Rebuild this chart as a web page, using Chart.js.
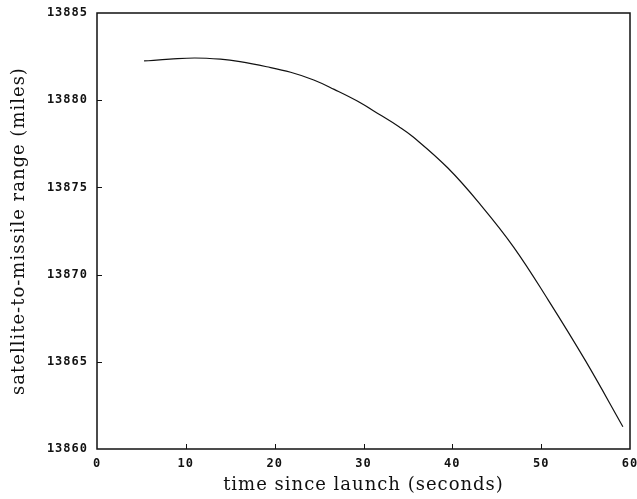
<!DOCTYPE html>
<html>
<head>
<meta charset="utf-8">
<script src="https://cdn.jsdelivr.net/npm/chart.js@4/dist/chart.umd.min.js"></script>
<style>
  html, body { margin: 0; padding: 0; background: #fff; }
  #wrap { width: 637px; height: 499px; }
</style>
</head>
<body>
<div id="wrap"><canvas id="c" width="637" height="499"></canvas></div>
<script>
// time since launch (seconds)
const timeSec = [5.3, 8.2, 11.0, 13.9, 16.1, 19.1, 21.8, 24.4, 26.7, 29.3, 31.9, 34.0, 35.6, 39.5, 43.2, 46.9, 50.8, 55.0, 59.2];
// satellite-to-missile range (miles)
const rangeMiles = [13882.25, 13882.35, 13882.42, 13882.35, 13882.21, 13881.92, 13881.60, 13881.16, 13880.62, 13879.95, 13879.15, 13878.48, 13877.89, 13876.11, 13873.99, 13871.58, 13868.54, 13865.05, 13861.28];
const xTickValues = [0, 10, 20, 30, 40, 50, 60];
const yTickValues = [13860, 13865, 13870, 13875, 13880, 13885];
const xTitle = 'time since launch (seconds)';
const yTitle = 'satellite-to-missile range (miles)';

const points = timeSec.map((t, i) => ({ x: t, y: rangeMiles[i] }));

const spacing = {
  id: 'spacing',
  beforeDraw(chart) { chart.ctx.letterSpacing = '1px'; },
  afterDraw(chart) { chart.ctx.letterSpacing = '0px'; }
};

const frameAndTicks = {
  id: 'frameAndTicks',
  afterDraw(chart) {
    const { ctx, chartArea: a, scales } = chart;
    ctx.save();
    ctx.strokeStyle = '#111';
    ctx.lineWidth = 1.5;
    ctx.strokeRect(a.left, a.top, a.right - a.left, a.bottom - a.top);
    ctx.lineWidth = 1;
    ctx.beginPath();
    xTickValues.slice(1, -1).forEach(v => {
      const px = Math.round(scales.x.getPixelForValue(v)) + 0.5;
      ctx.moveTo(px, a.bottom);
      ctx.lineTo(px, a.bottom - 5);
    });
    yTickValues.slice(1, -1).forEach(v => {
      const py = Math.round(scales.y.getPixelForValue(v)) + 0.5;
      ctx.moveTo(a.left, py);
      ctx.lineTo(a.left + 5, py);
    });
    ctx.stroke();
    ctx.restore();
  }
};

const tickFont = { family: 'DejaVu Sans Mono', size: 12, weight: 'bold' };
const titleFont = { family: 'DejaVu Serif', size: 18 };

new Chart(document.getElementById('c'), {
  type: 'line',
  data: {
    datasets: [{
      data: points,
      borderColor: '#111',
      borderWidth: 1.2,
      pointRadius: 0,
      fill: false,
      tension: 0.4
    }]
  },
  options: {
    responsive: false,
    animation: false,
    devicePixelRatio: 1,
    layout: { padding: { top: 13, right: 7, left: 0, bottom: 0 } },
    plugins: { legend: { display: false }, tooltip: { enabled: false } },
    scales: {
      x: {
        type: 'linear',
        min: 0, max: 60,
        afterBuildTicks: s => { s.ticks = xTickValues.map(v => ({ value: v })); },
        afterFit: s => { s.height = 50; s.paddingLeft = 0; s.paddingRight = 0; },
        grid: { display: false, drawTicks: false },
        border: { display: false },
        ticks: { color: '#111', font: tickFont, padding: 8, maxRotation: 0 },
        title: { display: true, text: xTitle, color: '#111', font: titleFont, padding: { top: 0, bottom: 3 } }
      },
      y: {
        type: 'linear',
        min: 13860, max: 13885,
        afterBuildTicks: s => { s.ticks = yTickValues.map(v => ({ value: v })); },
        afterFit: s => { s.width = 97; s.paddingTop = 0; s.paddingBottom = 0; },
        grid: { display: false, drawTicks: false },
        border: { display: false },
        ticks: { color: '#111', font: tickFont, padding: 9, callback: v => String(v) },
        title: { display: true, text: yTitle, color: '#111', font: titleFont, padding: { top: 9, bottom: 0 } }
      }
    }
  },
  plugins: [spacing, frameAndTicks]
});
</script>
</body>
</html>
